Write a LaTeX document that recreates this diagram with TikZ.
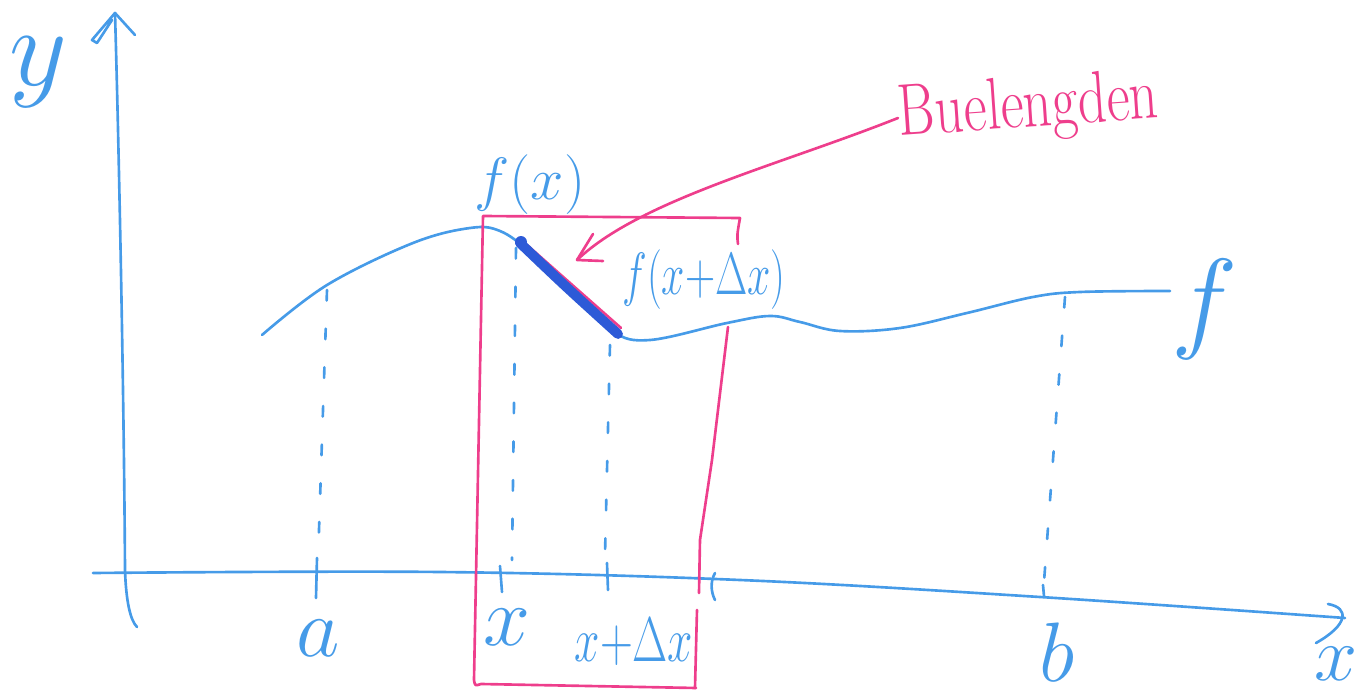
\RequirePackage{fix-cm}
\documentclass[tikz,border=0pt]{standalone}
\definecolor{penblue}{RGB}{70,155,232}
\definecolor{darkpen}{RGB}{45,90,215}
\definecolor{penpink}{RGB}{238,62,140}
\begin{document}
\begin{tikzpicture}[x=0.01cm,y=-0.01cm, line cap=round, line join=round,
  pen/.style={draw=penblue, line width=0.75pt},
  pinkpen/.style={draw=penpink, line width=0.75pt},
  dashes/.style={pen, dash pattern=on 3pt off 8pt},
  lbl/.style={text=penblue, inner sep=0pt}]
\useasboundingbox (0,0) rectangle (1365,697);

% axes
\draw[pen] (115,13) .. controls (119,150) and (124,400) .. (125,570) .. controls (126,600) and (130,620) .. (137,627);
\draw[pen] (135,35) -- (115,13) -- (92,40) -- (97,43) -- (112,20);
\draw[pen] plot[smooth, tension=0.6] coordinates {(93,573) (440,572) (740,580) (1040,597) (1345,618)};
\draw[pen] (1328,604) .. controls (1350,608) and (1348,625) .. (1316,643);

% curve f
\draw[pen] plot[smooth, tension=0.6] coordinates {(262,335) (327,285) (413,243) (470,228) (500,231) (530,252) (570,290) (612,331) (650,340) (727,323) (770,316) (800,322) (840,331) (900,328) (967,313) (1033,297) (1080,292) (1170,291)};

% dashed verticals and ticks
\draw[dashes] (327,290) -- (318,560);
\draw[pen] (317,558) -- (316,598);
\draw[dashes] (516,248) -- (512,560);
\draw[pen] (500,566) -- (502,592);
\draw[dashes] (610,345) -- (605,555);
\draw[pen] (607,563) -- (608,590);
\draw[pen] (715,573) .. controls (710,582) and (711,592) .. (715,600);
\draw[dashes] (1065,297) -- (1044,582);
\draw[pen] (1043,585) -- (1044,596);

% pink frame
\draw[pinkpen] (738,244) .. controls (737,235) .. (740,218) -- (483,216) -- (474,680) .. controls (475,686) .. (481,684) -- (696,688);
\draw[pinkpen] (728,327) -- (712,460) -- (700,540) -- (699,593);
\draw[pinkpen] (697,610) -- (695,688);

% arc segment
\draw[pinkpen] (527,245) .. controls (570,283) .. (621,328);
\draw[draw=darkpen, line width=2.8pt] (520,243) .. controls (565,286) .. (618,334);
\fill[darkpen] (521,242) circle (6);

% labels
\node[lbl, font=\fontsize{32}{36}\selectfont] (ylab) at (38,72) {$y$};
\node[lbl, font=\fontsize{32}{36}\selectfont] (flab) at (1205,309) {$f$};
\node[lbl, font=\fontsize{24}{28}\selectfont] (alab) at (318,638) {$a$};
\node[lbl, font=\fontsize{24}{28}\selectfont] (xlab) at (507,627) {$x$};
\node[lbl, font=\fontsize{18}{22}\selectfont] (xdxlab) at (634,642) {\scalebox{0.72}[1]{$x{+}\Delta x$}};
\node[lbl, font=\fontsize{24}{28}\selectfont] (blab) at (1057,652) {$b$};
\node[lbl, font=\fontsize{22}{26}\selectfont] (xaxlab) at (1336,664) {$x$};
\node[lbl, font=\fontsize{17}{20}\selectfont] (fxlab) at (530,185) {$f(x)$};
\node[lbl, font=\fontsize{17}{20}\selectfont] (fxdxlab) at (704,280) {\scalebox{0.7}[1]{$f(x{+}\Delta x)$}};
\node[text=penpink, inner sep=0pt, font=\fontsize{16}{20}\selectfont, rotate=4, anchor=west] (bl) at (898,118) {\scalebox{1}[1.3]{Buelengden}};

% pink arrow
\coordinate (tip) at (577,260);
\draw[pinkpen] (bl.west) .. controls (780,165) and (640,200) .. (tip);
\draw[pinkpen] (593,234) -- (tip) -- (603,261);
\end{tikzpicture}
\end{document}
